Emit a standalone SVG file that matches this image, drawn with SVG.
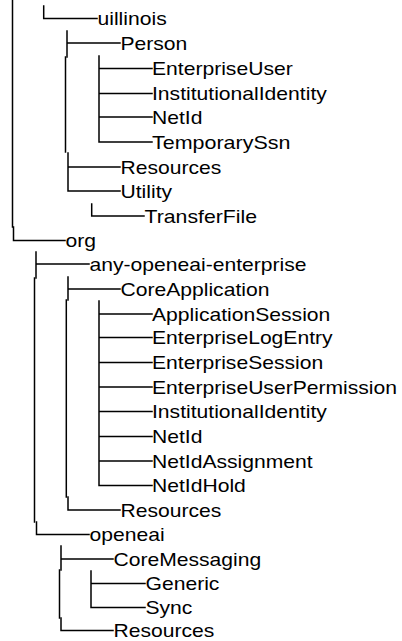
<svg xmlns="http://www.w3.org/2000/svg" width="402" height="641" viewBox="0 0 402 641">
  <style>
    .lbl { font-family: "Liberation Sans", Arial, sans-serif; font-size: 18.6px; fill: #000; }
    .ln { fill: none; stroke: #000; stroke-width: 1.5; stroke-linecap: square; }
  </style>
  <rect width="402" height="641" fill="#fff"/>

  <!-- tree connectors -->
  <g id="connectors" class="ln">
    <!-- root column -->
    <path d="M12.5,0 V227 H13.5 V240.5 H65"/>
    <!-- edu.uillinois -->
    <path d="M43.7,6 V18.5 H97"/>
    <!-- uillinois children -->
    <path d="M67,31 V57 M67,43 H120"/>
    <path d="M65.5,57 V152"/>
    <path d="M68,153 V191 H120 M68,167 H120"/>
    <!-- Person children -->
    <path d="M99,56 V142 H152 M99,68.5 H152 M99,93.5 H152 M99,117 H152"/>
    <!-- Utility child -->
    <path d="M91.7,204 V216 H144"/>
    <!-- org children -->
    <path d="M36,252 V278 M36,264 H89"/>
    <path d="M34.5,278 V522"/>
    <path d="M36.5,522 V534.5 H89"/>
    <!-- any-openeai-enterprise children -->
    <path d="M68,277 V300 M68,289 H120"/>
    <path d="M66.3,300 V497"/>
    <path d="M68,497 V510 H120"/>
    <!-- CoreApplication children -->
    <path d="M99,301 V485.5 H152 M99,314 H152 M99,337.5 H152 M99,362.5 H152 M99,387 H152 M99,411.5 H152 M99,436.5 H152 M99,461 H152"/>
    <!-- openeai children -->
    <path d="M61,546 V570 M61,559 H113"/>
    <path d="M59.5,570 V618"/>
    <path d="M61,618 V630.5 H113"/>
    <!-- CoreMessaging children -->
    <path d="M91,571 V607.5 H145 M91,583.5 H145"/>
  </g>

  <!-- nodes -->
  <g id="n-uillinois"><text class="lbl" x="97.5" y="25" textLength="69.2" lengthAdjust="spacingAndGlyphs">uillinois</text></g>
  <g id="n-person"><text class="lbl" x="120.5" y="49.5" textLength="66.8" lengthAdjust="spacingAndGlyphs">Person</text></g>
  <g id="n-enterpriseuser"><text class="lbl" x="152" y="75" textLength="140.7" lengthAdjust="spacingAndGlyphs">EnterpriseUser</text></g>
  <g id="n-institutionalidentity-1"><text class="lbl" x="152" y="100" textLength="174.8" lengthAdjust="spacingAndGlyphs">InstitutionalIdentity</text></g>
  <g id="n-netid-1"><text class="lbl" x="152" y="123.5" textLength="50.4" lengthAdjust="spacingAndGlyphs">NetId</text></g>
  <g id="n-temporaryssn"><text class="lbl" x="152" y="148.5" textLength="138.4" lengthAdjust="spacingAndGlyphs">TemporarySsn</text></g>
  <g id="n-resources-1"><text class="lbl" x="120.5" y="173.5" textLength="100.8" lengthAdjust="spacingAndGlyphs">Resources</text></g>
  <g id="n-utility"><text class="lbl" x="120.5" y="197.5" textLength="51.6" lengthAdjust="spacingAndGlyphs">Utility</text></g>
  <g id="n-transferfile"><text class="lbl" x="144.5" y="222.5" textLength="112.5" lengthAdjust="spacingAndGlyphs">TransferFile</text></g>
  <g id="n-org"><text class="lbl" x="65.5" y="247" textLength="30.5" lengthAdjust="spacingAndGlyphs">org</text></g>
  <g id="n-any-openeai-enterprise"><text class="lbl" x="89.5" y="270.5" textLength="217" lengthAdjust="spacingAndGlyphs">any-openeai-enterprise</text></g>
  <g id="n-coreapplication"><text class="lbl" x="120.5" y="295.5" textLength="148.9" lengthAdjust="spacingAndGlyphs">CoreApplication</text></g>
  <g id="n-applicationsession"><text class="lbl" x="152" y="320.5" textLength="178.3" lengthAdjust="spacingAndGlyphs">ApplicationSession</text></g>
  <g id="n-enterpriselogentry"><text class="lbl" x="152" y="344" textLength="180.6" lengthAdjust="spacingAndGlyphs">EnterpriseLogEntry</text></g>
  <g id="n-enterprisesession"><text class="lbl" x="152" y="369" textLength="171.2" lengthAdjust="spacingAndGlyphs">EnterpriseSession</text></g>
  <g id="n-enterpriseuserpermission"><text class="lbl" x="152" y="393.5" textLength="245" lengthAdjust="spacingAndGlyphs">EnterpriseUserPermission</text></g>
  <g id="n-institutionalidentity-2"><text class="lbl" x="152" y="418" textLength="174.8" lengthAdjust="spacingAndGlyphs">InstitutionalIdentity</text></g>
  <g id="n-netid-2"><text class="lbl" x="152" y="443" textLength="50.4" lengthAdjust="spacingAndGlyphs">NetId</text></g>
  <g id="n-netidassignment"><text class="lbl" x="152" y="467.5" textLength="160.7" lengthAdjust="spacingAndGlyphs">NetIdAssignment</text></g>
  <g id="n-netidhold"><text class="lbl" x="152" y="492" textLength="93.8" lengthAdjust="spacingAndGlyphs">NetIdHold</text></g>
  <g id="n-resources-2"><text class="lbl" x="120.5" y="516.5" textLength="100.8" lengthAdjust="spacingAndGlyphs">Resources</text></g>
  <g id="n-openeai"><text class="lbl" x="89.5" y="541" textLength="75.1" lengthAdjust="spacingAndGlyphs">openeai</text></g>
  <g id="n-coremessaging"><text class="lbl" x="113.5" y="565.5" textLength="147.7" lengthAdjust="spacingAndGlyphs">CoreMessaging</text></g>
  <g id="n-generic"><text class="lbl" x="145.5" y="590" textLength="73.9" lengthAdjust="spacingAndGlyphs">Generic</text></g>
  <g id="n-sync"><text class="lbl" x="145.5" y="614" textLength="46.9" lengthAdjust="spacingAndGlyphs">Sync</text></g>
  <g id="n-resources-3"><text class="lbl" x="113.5" y="637" textLength="100.8" lengthAdjust="spacingAndGlyphs">Resources</text></g>
</svg>
